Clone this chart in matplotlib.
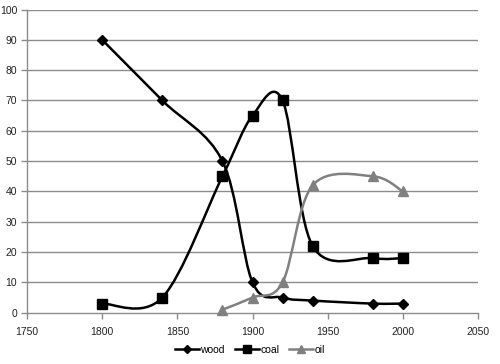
import matplotlib
matplotlib.use("Agg")
import matplotlib.pyplot as plt
from matplotlib.path import Path
from matplotlib.patches import PathPatch
from matplotlib.lines import Line2D
import numpy as np

plt.rcParams['font.family'] = ['Liberation Sans', 'DejaVu Sans']

wood_x = [1800, 1840, 1880, 1900, 1920, 1940, 1980, 2000]
wood_y = [90, 70, 50, 10, 5, 4, 3, 3]
coal_x = [1800, 1840, 1880, 1900, 1920, 1940, 1980, 2000]
coal_y = [3, 5, 45, 65, 70, 22, 18, 18]
oil_x = [1880, 1900, 1920, 1940, 1980, 2000]
oil_y = [1, 5, 10, 42, 45, 40]
x_ticks = [1750, 1800, 1850, 1900, 1950, 2000, 2050]
y_ticks = [0, 10, 20, 30, 40, 50, 60, 70, 80, 90, 100]

fig = plt.figure(figsize=(5.0, 3.64), dpi=100)
ax = fig.add_axes([27/500, 1 - 312.7/364, (478-27)/500, (312.7-9.5)/364])
ax.set_xlim(1750, 2050)
ax.set_ylim(0, 100)

grid_c = '#8c8c8c'
for yv in y_ticks[1:]:
    ax.axhline(yv, color=grid_c, lw=1.0, zorder=1)

def smooth_path(xs, ys):
    pts = np.column_stack([xs, ys]).astype(float)
    n = len(pts)
    verts = [pts[0]]
    codes = [Path.MOVETO]
    for i in range(n - 1):
        p0 = pts[i - 1] if i > 0 else pts[i]
        p1 = pts[i]
        p2 = pts[i + 1]
        p3 = pts[i + 2] if i + 2 < n else pts[i + 1]
        c1 = p1 + (p2 - p0) / 6.0
        c2 = p2 - (p3 - p1) / 6.0
        verts += [c1, c2, p2]
        codes += [Path.CURVE4] * 3
    return Path(verts, codes)

series = [
    (wood_x, wood_y, 'black', 'D', 5.5, 'wood'),
    (coal_x, coal_y, 'black', 's', 7.5, 'coal'),
    (oil_x, oil_y, '#808080', '^', 7.5, 'oil'),
]
handles = []
for xs, ys, c, m, ms, lab in series:
    patch = PathPatch(smooth_path(xs, ys), facecolor='none', edgecolor=c, lw=1.8, zorder=3)
    ax.add_patch(patch)
    ax.plot(xs, ys, linestyle='none', marker=m, ms=ms, color=c, zorder=4, clip_on=False)
    handles.append(Line2D([], [], color=c, lw=1.8, marker=m, ms=ms * 0.75, label=lab))

for s in ['top', 'right']:
    ax.spines[s].set_visible(False)
for s in ['left', 'bottom']:
    ax.spines[s].set_color(grid_c)
    ax.spines[s].set_linewidth(1.0)

ax.set_xticks(x_ticks)
ax.set_yticks(y_ticks)
ax.tick_params(axis='both', colors=grid_c, labelcolor='#222222', labelsize=7.5, length=4, width=1.0, direction='out')
ax.tick_params(axis='y', pad=3)
ax.tick_params(axis='x', pad=6)

fig.legend(handles=handles, loc='center', bbox_to_anchor=(250/500, 1 - 350/364), ncol=3,
           frameon=False, fontsize=7.5, handlelength=2.3, handletextpad=0.1, columnspacing=1.0)

fig.savefig('out.png', dpi=100)
